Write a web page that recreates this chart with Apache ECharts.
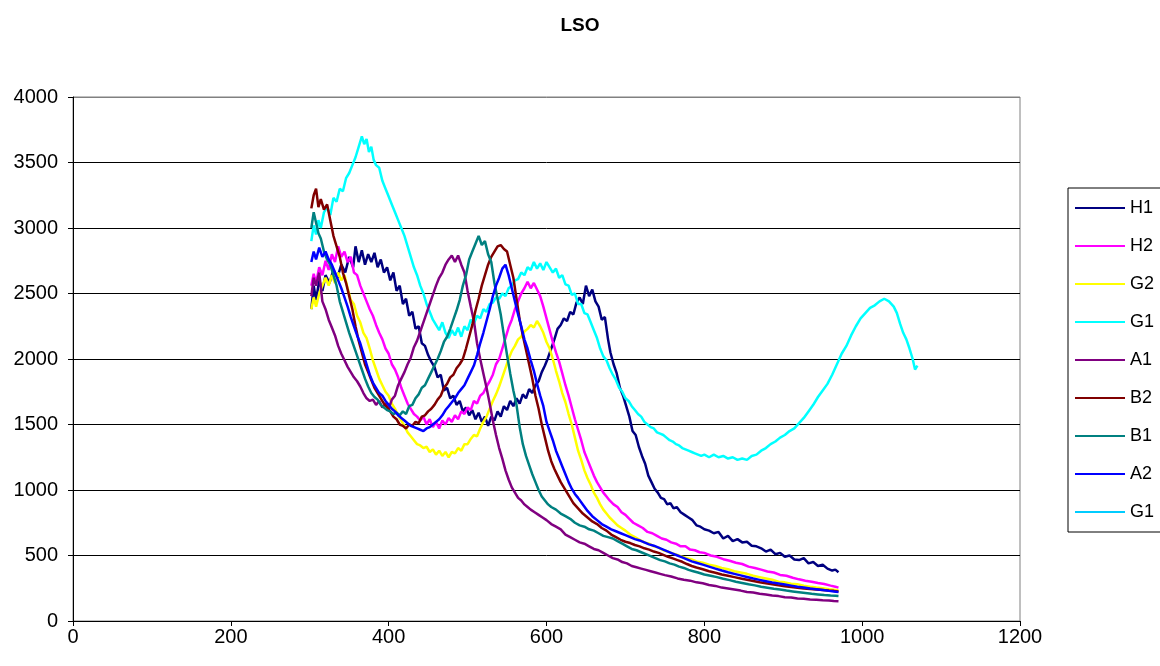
<!DOCTYPE html>
<html>
<head>
<meta charset="utf-8">
<script src="https://cdn.jsdelivr.net/npm/echarts@6/dist/echarts.min.js"></script>
<style>html,body{margin:0;padding:0;background:#fff}#c{width:1160px;height:666px}</style>
</head>
<body>
<div id="c"></div>
<script>
const titleText = 'LSO';
const seriesNames = ['H1', 'H2', 'G2', 'G1', 'A1', 'B2', 'B1', 'A2', 'G1 (2)'];
const seriesColors = ['#000080', '#FF00FF', '#FFFF00', '#00FFFF', '#800080', '#800000', '#008080', '#0000FF', '#00CCFF'];
const xTicks = [0, 200, 400, 600, 800, 1000, 1200];
const yTicks = [0, 500, 1000, 1500, 2000, 2500, 3000, 3500, 4000];

const h1 = [[302,2380],[305,2560],[308,2450],[312,2600],[316,2520],[320,2640],[325,2580],[330,2680],[335,2620],[340,2720],[345,2660],[350,2780],[355,2700],[358,2860],[362,2740],[366,2830],[370,2720],[374,2800],[378,2740],[382,2810],[386,2700],[390,2760],[394,2660],[398,2700],[402,2600],[406,2660],[410,2520],[414,2560],[418,2420],[422,2460],[426,2330],[430,2360],[434,2230],[438,2250],[442,2120],[446,2100],[450,2030],[454,1980],[458,1940],[462,1860],[466,1880],[470,1760],[474,1780],[478,1700],[482,1720],[486,1650],[490,1680],[494,1600],[498,1630],[502,1570],[506,1610],[510,1540],[514,1590],[518,1520],[522,1560],[526,1490],[530,1560],[534,1530],[538,1600],[542,1560],[546,1640],[550,1610],[554,1680],[558,1640],[562,1700],[566,1660],[570,1730],[574,1700],[578,1770],[582,1740],[586,1800],[590,1830],[594,1900],[598,1950],[602,2010],[606,2080],[610,2150],[614,2230],[618,2260],[622,2310],[626,2290],[630,2360],[634,2340],[638,2430],[642,2470],[646,2420],[650,2560],[654,2480],[658,2530],[662,2440],[666,2400],[670,2300],[674,2320],[678,2150],[681,2050],[685,1960],[689,1890],[693,1780],[697,1720],[701,1640],[705,1560],[709,1450],[713,1420],[717,1330],[721,1260],[725,1200],[729,1110],[733,1060],[737,1010],[741,980],[745,940],[749,930],[753,890],[757,900],[761,860],[765,870],[770,830],[775,810],[780,790],[785,770],[790,730],[795,720],[800,700],[806,690],[812,670],[818,680],[824,630],[830,650],[836,610],[842,625],[848,600],[854,605],[860,575],[866,570],[872,555],[878,530],[884,545],[890,510],[896,520],[902,490],[908,500],[914,470],[920,465],[926,480],[932,440],[938,450],[944,420],[950,430],[956,400],[962,385],[966,392],[970,372]];

const h2 = [[302,2560],[305,2650],[308,2580],[312,2700],[316,2640],[320,2750],[324,2680],[328,2800],[332,2740],[336,2860],[340,2780],[344,2820],[348,2740],[352,2780],[356,2660],[360,2640],[364,2560],[368,2500],[372,2440],[376,2380],[380,2330],[384,2260],[388,2200],[392,2150],[396,2080],[400,2040],[404,1960],[408,1920],[412,1860],[416,1780],[420,1720],[424,1660],[428,1620],[432,1580],[436,1560],[440,1530],[444,1560],[448,1500],[452,1540],[456,1480],[460,1520],[464,1470],[468,1530],[472,1500],[476,1550],[480,1520],[484,1570],[488,1540],[492,1600],[496,1580],[500,1630],[504,1610],[508,1680],[512,1660],[516,1720],[520,1740],[524,1790],[528,1830],[532,1880],[536,1960],[540,2000],[544,2080],[548,2160],[552,2240],[556,2300],[560,2380],[564,2440],[568,2500],[572,2540],[576,2590],[580,2540],[584,2580],[588,2530],[592,2480],[596,2400],[600,2310],[604,2220],[608,2130],[612,2050],[616,1980],[620,1890],[624,1800],[628,1720],[632,1630],[636,1540],[640,1460],[644,1380],[648,1290],[652,1230],[656,1170],[660,1110],[664,1060],[668,1020],[672,980],[676,950],[680,920],[685,890],[690,870],[695,830],[700,810],[705,780],[710,750],[716,730],[722,710],[728,680],[734,670],[740,650],[746,630],[752,620],[758,600],[764,590],[770,570],[776,570],[782,545],[788,540],[794,525],[800,520],[808,500],[816,490],[824,472],[832,460],[840,445],[848,435],[856,415],[864,405],[872,392],[880,378],[888,370],[896,352],[904,345],[912,330],[920,318],[928,308],[936,300],[944,290],[952,282],[960,270],[966,262],[970,255]];

const g2 = [[302,2380],[305,2470],[308,2400],[312,2500],[316,2560],[320,2620],[324,2560],[328,2640],[332,2580],[336,2660],[340,2600],[344,2640],[348,2540],[352,2450],[356,2420],[360,2330],[364,2280],[368,2200],[372,2160],[376,2080],[380,1990],[384,1920],[388,1850],[392,1800],[396,1750],[400,1720],[404,1660],[408,1620],[412,1570],[416,1530],[420,1490],[424,1440],[428,1410],[432,1380],[436,1350],[440,1340],[444,1320],[448,1330],[452,1290],[456,1310],[460,1270],[464,1300],[468,1260],[472,1290],[476,1250],[480,1290],[484,1280],[488,1320],[492,1300],[496,1350],[500,1350],[504,1390],[508,1420],[512,1410],[516,1470],[520,1520],[524,1560],[528,1620],[532,1680],[536,1730],[540,1790],[544,1860],[548,1930],[552,2000],[556,2060],[560,2100],[564,2150],[568,2170],[572,2210],[576,2230],[580,2260],[584,2240],[588,2290],[592,2250],[596,2200],[600,2130],[604,2080],[608,2000],[612,1910],[616,1830],[620,1740],[624,1670],[628,1580],[632,1500],[636,1400],[640,1300],[644,1230],[648,1150],[652,1090],[656,1040],[660,980],[664,940],[668,890],[672,850],[676,820],[680,790],[685,760],[690,730],[695,710],[700,690],[706,660],[712,640],[718,620],[724,600],[730,590],[736,570],[742,560],[748,540],[754,530],[760,515],[766,505],[772,490],[778,480],[784,470],[790,455],[798,445],[806,430],[814,420],[822,405],[830,395],[838,380],[846,370],[854,360],[862,345],[870,335],[878,325],[886,315],[894,300],[902,295],[910,285],[918,280],[926,270],[934,262],[942,255],[950,250],[958,242],[964,238],[970,232]];

const g1 = [[302,2900],[305,3020],[308,2950],[311,3060],[314,3000],[318,3120],[322,3160],[326,3100],[330,3230],[334,3200],[338,3300],[342,3280],[346,3380],[350,3420],[354,3480],[358,3540],[362,3620],[366,3700],[369,3640],[372,3680],[375,3580],[378,3620],[381,3520],[384,3480],[388,3460],[392,3360],[396,3300],[400,3240],[404,3180],[408,3120],[412,3060],[416,3000],[420,2940],[424,2860],[428,2780],[432,2700],[436,2640],[440,2560],[444,2500],[448,2420],[452,2360],[456,2300],[460,2260],[464,2220],[468,2280],[472,2200],[476,2160],[480,2220],[484,2180],[488,2240],[492,2170],[496,2250],[500,2220],[504,2300],[508,2270],[512,2330],[516,2310],[520,2380],[524,2360],[528,2420],[532,2430],[536,2470],[540,2460],[544,2500],[548,2480],[552,2540],[556,2560],[560,2600],[564,2610],[568,2660],[572,2640],[576,2700],[580,2680],[584,2740],[588,2690],[592,2730],[596,2680],[600,2740],[604,2700],[608,2660],[612,2690],[616,2620],[620,2640],[624,2570],[628,2560],[632,2490],[636,2500],[640,2420],[644,2420],[648,2350],[652,2340],[656,2280],[660,2220],[664,2160],[668,2080],[672,2020],[676,1990],[680,1930],[684,1880],[688,1840],[692,1780],[696,1750],[700,1700],[704,1680],[708,1640],[712,1610],[716,1580],[720,1560],[724,1520],[728,1500],[732,1480],[736,1470],[740,1440],[744,1430],[748,1420],[752,1400],[756,1380],[760,1370],[764,1350],[768,1340],[772,1320],[776,1310],[780,1300],[784,1290],[788,1280],[792,1270],[796,1260],[800,1270],[806,1250],[812,1270],[818,1250],[824,1260],[830,1240],[836,1250],[842,1230],[848,1240],[854,1230],[860,1260],[866,1270],[872,1300],[878,1320],[884,1350],[890,1370],[896,1400],[902,1420],[908,1450],[914,1470],[920,1510],[926,1550],[932,1600],[938,1650],[944,1710],[950,1760],[956,1810],[962,1880],[968,1960],[974,2040],[980,2100],[986,2180],[992,2250],[998,2310],[1004,2350],[1010,2390],[1016,2410],[1022,2440],[1028,2460],[1034,2440],[1040,2400],[1044,2350],[1048,2270],[1052,2200],[1056,2150],[1060,2080],[1064,2000],[1067,1920],[1070,1950]];

const a1 = [[302,2480],[305,2620],[308,2560],[312,2660],[316,2440],[320,2380],[324,2300],[328,2240],[332,2180],[336,2100],[340,2040],[344,1990],[348,1940],[352,1900],[356,1860],[360,1830],[364,1790],[368,1740],[372,1700],[376,1680],[380,1690],[384,1650],[388,1680],[392,1630],[396,1660],[400,1620],[404,1690],[408,1720],[412,1800],[416,1850],[420,1900],[424,1960],[428,2010],[432,2090],[436,2140],[440,2210],[444,2280],[448,2350],[452,2420],[456,2490],[460,2560],[464,2620],[468,2660],[472,2720],[476,2760],[480,2790],[484,2740],[488,2790],[492,2720],[496,2660],[500,2520],[504,2400],[508,2290],[512,2120],[516,2000],[520,1890],[524,1780],[528,1660],[532,1530],[536,1420],[540,1320],[544,1240],[548,1150],[552,1080],[556,1020],[560,980],[564,940],[568,920],[572,890],[576,870],[580,850],[585,830],[590,810],[595,790],[600,770],[606,740],[612,720],[618,700],[624,660],[630,640],[636,620],[642,600],[648,590],[654,570],[660,550],[666,540],[672,520],[678,500],[684,480],[690,470],[696,450],[702,440],[708,420],[714,410],[720,400],[726,390],[732,380],[738,370],[744,360],[750,350],[758,340],[766,325],[774,315],[782,308],[790,295],[798,288],[806,275],[814,268],[822,255],[830,248],[838,240],[846,232],[854,222],[862,218],[870,208],[878,202],[886,195],[894,190],[902,182],[910,180],[918,172],[926,170],[934,165],[942,162],[950,158],[958,157],[964,152],[970,150]];

const b2 = [[302,3150],[305,3250],[308,3300],[311,3160],[314,3220],[318,3140],[322,3180],[326,3060],[330,2940],[334,2860],[338,2780],[342,2660],[346,2580],[350,2480],[354,2380],[358,2250],[362,2140],[366,2050],[370,1960],[374,1900],[378,1840],[382,1780],[386,1740],[390,1700],[394,1660],[398,1630],[402,1600],[406,1560],[410,1540],[414,1500],[418,1490],[422,1470],[426,1500],[430,1490],[434,1520],[438,1510],[442,1560],[446,1570],[450,1600],[454,1620],[458,1650],[462,1690],[466,1720],[470,1780],[474,1810],[478,1860],[482,1880],[486,1930],[490,1960],[494,2000],[498,2080],[502,2170],[506,2260],[510,2370],[514,2460],[518,2560],[522,2640],[526,2720],[530,2780],[534,2820],[538,2860],[542,2870],[546,2840],[550,2820],[554,2720],[558,2620],[562,2460],[566,2300],[570,2180],[574,2070],[578,1960],[582,1850],[586,1720],[590,1620],[594,1500],[598,1400],[602,1300],[606,1220],[610,1160],[614,1110],[618,1060],[622,1020],[626,980],[630,940],[634,900],[640,860],[646,820],[652,790],[658,760],[664,740],[670,710],[676,690],[682,660],[688,640],[694,620],[700,605],[706,595],[712,580],[718,570],[724,555],[730,545],[736,530],[742,520],[748,505],[754,490],[760,478],[766,465],[772,452],[778,435],[784,420],[790,408],[798,395],[806,380],[814,368],[822,355],[830,345],[838,335],[846,325],[854,315],[862,305],[870,296],[878,288],[886,280],[894,272],[902,266],[910,260],[918,254],[926,248],[934,244],[942,240],[950,236],[958,232],[964,230],[970,226]];

const b1 = [[302,3000],[305,3120],[308,3040],[311,2960],[314,2920],[318,2820],[322,2760],[326,2720],[330,2640],[334,2560],[338,2440],[342,2360],[346,2280],[350,2200],[354,2130],[358,2060],[362,1990],[366,1920],[370,1850],[374,1790],[378,1740],[382,1710],[386,1690],[390,1650],[394,1630],[398,1610],[402,1600],[406,1580],[410,1590],[414,1570],[418,1600],[422,1580],[426,1640],[430,1650],[434,1700],[438,1730],[442,1780],[446,1800],[450,1850],[454,1900],[458,1950],[462,2000],[466,2060],[470,2130],[474,2170],[478,2230],[482,2300],[486,2370],[490,2450],[494,2560],[498,2640],[502,2760],[506,2820],[510,2880],[514,2940],[518,2870],[522,2900],[526,2800],[530,2740],[534,2580],[538,2460],[542,2340],[546,2180],[550,2030],[554,1890],[558,1760],[562,1650],[566,1480],[570,1350],[574,1260],[578,1190],[582,1120],[586,1060],[590,1000],[594,950],[598,920],[602,890],[606,870],[612,850],[618,820],[624,800],[630,780],[636,750],[642,730],[648,720],[654,700],[660,690],[666,670],[672,650],[678,640],[684,630],[690,610],[696,590],[702,570],[708,550],[714,540],[720,525],[726,510],[732,495],[738,480],[744,465],[750,455],[756,440],[762,430],[768,415],[774,405],[780,390],[786,380],[792,370],[800,355],[808,345],[816,335],[824,322],[832,312],[840,300],[848,290],[856,280],[864,272],[872,262],[880,254],[888,246],[896,240],[904,232],[912,226],[920,220],[928,214],[936,208],[944,203],[952,198],[960,194],[966,192],[970,190]];

const a2 = [[302,2740],[305,2820],[308,2760],[312,2850],[316,2780],[320,2820],[324,2760],[328,2720],[332,2660],[336,2600],[340,2540],[344,2470],[348,2400],[352,2320],[356,2250],[360,2180],[364,2120],[368,2040],[372,1960],[376,1880],[380,1820],[384,1780],[388,1740],[392,1720],[396,1680],[400,1650],[404,1620],[408,1600],[412,1570],[416,1550],[420,1530],[424,1510],[428,1490],[432,1480],[436,1470],[440,1460],[444,1450],[448,1470],[452,1480],[456,1500],[460,1520],[464,1540],[468,1570],[472,1610],[476,1640],[480,1670],[484,1700],[488,1740],[492,1770],[496,1800],[500,1850],[504,1900],[508,1950],[512,2030],[516,2120],[520,2200],[524,2290],[528,2380],[532,2480],[536,2560],[540,2620],[544,2690],[548,2720],[552,2640],[556,2540],[560,2440],[564,2340],[568,2250],[572,2150],[576,2080],[580,1990],[584,1910],[588,1810],[592,1720],[596,1640],[600,1520],[604,1450],[608,1380],[612,1300],[616,1240],[620,1180],[624,1120],[628,1060],[632,1010],[636,970],[640,940],[646,890],[652,840],[658,800],[664,770],[670,740],[676,720],[682,700],[688,685],[694,670],[700,655],[706,640],[712,625],[718,615],[724,600],[730,585],[736,575],[742,560],[748,545],[754,530],[760,515],[766,500],[772,485],[778,470],[784,455],[790,445],[798,430],[806,415],[814,400],[822,385],[830,372],[838,360],[846,348],[854,336],[862,324],[870,314],[878,304],[886,294],[894,286],[902,278],[910,270],[918,262],[926,255],[934,248],[942,242],[950,236],[958,230],[964,226],[970,222]];

const g1b = [];

const seriesData = [h1, h2, g2, g1, a1, b2, b1, a2, g1b];

const font = '"Liberation Sans", Arial, sans-serif';
const plain = function (v) { return String(v); };
const chart = echarts.init(document.getElementById('c'), null, {renderer: 'canvas'});
chart.setOption({
  animation: false,
  backgroundColor: '#fff',
  title: {
    text: titleText, left: 'center', top: 11,
    textStyle: {fontFamily: font, fontSize: 19, fontWeight: 'bold', color: '#000'}
  },
  grid: {left: 73, top: 97, width: 947, height: 524, show: true, borderColor: '#808080', borderWidth: 1, backgroundColor: 'transparent'},
  legend: {
    orient: 'vertical', left: 1068, top: 188, padding: [10, 20, 10, 7],
    borderColor: '#000', borderWidth: 1, itemWidth: 50, itemHeight: 2, itemGap: 18,
    icon: 'rect', selectedMode: false,
    data: seriesNames,
    formatter: function (n) { return n.replace(' (2)', ''); },
    textStyle: {fontFamily: font, fontSize: 18, lineHeight: 20, color: '#000'}
  },
  xAxis: {
    type: 'value', min: xTicks[0], max: xTicks[xTicks.length - 1], interval: xTicks[1] - xTicks[0],
    axisLine: {show: true, onZero: false, lineStyle: {color: '#000', width: 1}},
    axisTick: {show: true, length: 5, lineStyle: {color: '#000'}},
    axisLabel: {fontFamily: font, fontSize: 20, color: '#000', margin: 6, formatter: plain},
    splitLine: {show: false}
  },
  yAxis: {
    type: 'value', min: yTicks[0], max: yTicks[yTicks.length - 1], interval: yTicks[1] - yTicks[0],
    axisLine: {show: true, lineStyle: {color: '#000', width: 1}},
    axisTick: {show: true, length: 5, lineStyle: {color: '#000'}},
    axisLabel: {fontFamily: font, fontSize: 20, color: '#000', margin: 15, formatter: plain},
    splitLine: {show: true, lineStyle: {color: ['#000','#000','#000','#000','#000','#000','#000','#000','#808080'], width: 1}}
  },
  series: seriesNames.map(function (n, i) {
    return {
      name: n, type: 'line', data: seriesData[i], showSymbol: false, symbol: 'none',
      color: seriesColors[i], lineStyle: {width: 2.5, color: seriesColors[i]}, silent: true
    };
  })
});
</script>
</body>
</html>
